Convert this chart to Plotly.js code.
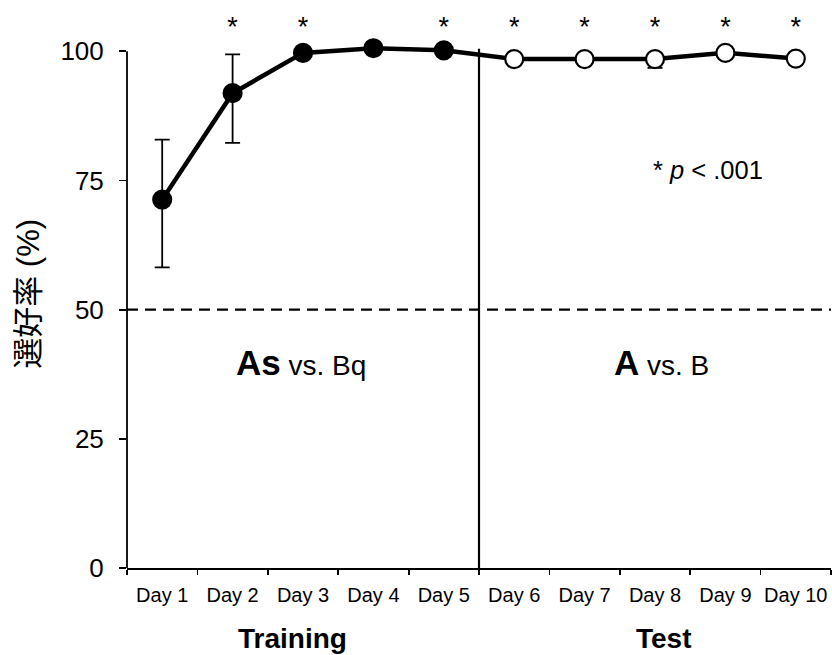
<!DOCTYPE html>
<html>
<head>
<meta charset="utf-8">
<script src="https://cdn.plot.ly/plotly-3.0.1.min.js"></script>
<style>
  html, body { margin: 0; padding: 0; background: #fff; }
  #chart { width: 832px; height: 655px; }
</style>
</head>
<body>
<div id="chart"></div>
<script>
// Preference rate per session (%), with error bars
const days = ['Day 1', 'Day 2', 'Day 3', 'Day 4', 'Day 5', 'Day 6', 'Day 7', 'Day 8', 'Day 9', 'Day 10'];
const preference = [71.3, 91.9, 99.7, 100.6, 100.2, 98.5, 98.5, 98.5, 99.7, 98.6];
const errPlus = [11.6, 7.5, 0.4, 0.3, 0.4, 0.5, 0.5, 0.5, 0.3, 0.6];
const errMinus = [13.1, 9.6, 0.4, 0.3, 0.4, 0.5, 0.5, 1.7, 0.3, 0.6];
const phase = ['training', 'training', 'training', 'training', 'training', 'test', 'test', 'test', 'test', 'test'];
const starDays = ['Day 2', 'Day 3', 'Day 5', 'Day 6', 'Day 7', 'Day 8', 'Day 9', 'Day 10'];
const chance = 50;
const yTicks = [0, 25, 50, 75, 100];
const yMax = 100;

const FONT = 'Liberation Sans, Arial, Noto Sans CJK JP, sans-serif';

const mainTrace = {
  x: days,
  y: preference,
  type: 'scatter',
  mode: 'lines+markers',
  cliponaxis: false,
  line: { color: '#000', width: 4.5 },
  marker: {
    size: 18,
    color: phase.map(p => p === 'training' ? '#000' : '#fff'),
    line: { color: '#000', width: 2.2 }
  },
  error_y: {
    type: 'data',
    symmetric: false,
    array: errPlus,
    arrayminus: errMinus,
    color: '#000',
    thickness: 1.8,
    width: 7.5
  },
  hoverinfo: 'x+y'
};

// significance markers above the sessions
const starTrace = {
  x: starDays,
  y: starDays.map(() => 104.3),
  type: 'scatter',
  mode: 'text',
  text: starDays.map(() => '*'),
  textfont: { family: FONT, size: 27, color: '#000' },
  cliponaxis: false,
  hoverinfo: 'skip'
};

const layout = {
  width: 832,
  height: 655,
  margin: { l: 127, r: 1, t: 10, b: 87 },
  paper_bgcolor: '#fff',
  plot_bgcolor: '#fff',
  showlegend: false,
  font: { family: FONT, color: '#000' },
  xaxis: {
    type: 'category',
    categoryorder: 'array',
    categoryarray: days,
    range: [-0.5, 9.5],
    tickson: 'boundaries',
    tickangle: 0,
    ticks: 'outside',
    ticklen: 5,
    tickwidth: 1.8,
    tickcolor: '#000',
    ticklabelstandoff: 8,
    showline: true,
    linecolor: '#000',
    linewidth: 1.8,
    showgrid: false,
    zeroline: false,
    tickfont: { family: FONT, size: 20, color: '#000' }
  },
  yaxis: {
    range: [0, 108],
    tickvals: yTicks,
    ticks: 'outside',
    ticklen: 7,
    tickwidth: 1.8,
    tickcolor: '#000',
    ticklabelstandoff: 10,
    showline: false,
    showgrid: false,
    zeroline: false,
    tickfont: { family: FONT, size: 26, color: '#000' }
  },
  shapes: [
    // vertical axis line, only up to 100 %
    { type: 'line', xref: 'paper', yref: 'y', x0: 0, x1: 0, y0: 0, y1: yMax,
      line: { color: '#000', width: 1.8 } },
    // chance level
    { type: 'line', xref: 'x', yref: 'y', x0: -0.5, x1: 9.5, y0: chance, y1: chance,
      line: { color: '#000', width: 2.2, dash: '11px,7px' } },
    // training / test boundary
    { type: 'line', xref: 'x', yref: 'y', x0: 4.5, x1: 4.5, y0: 0, y1: 100.5,
      line: { color: '#000', width: 2.2 } }
  ],
  annotations: [
    { xref: 'paper', yref: 'paper', x: -0.141, y: 0.491, text: '選好率 (%)', textangle: -90,
      showarrow: false, font: { family: FONT, size: 31, color: '#000' },
      xanchor: 'center', yanchor: 'middle' },
    { xref: 'x', yref: 'paper', x: 1.85, y: -0.126, text: '<b>Training</b>', showarrow: false,
      font: { family: FONT, size: 28, color: '#000' }, yanchor: 'middle' },
    { xref: 'x', yref: 'paper', x: 7.13, y: -0.126, text: '<b>Test</b>', showarrow: false,
      font: { family: FONT, size: 28, color: '#000' }, yanchor: 'middle' },
    { xref: 'x', yref: 'y', x: 1.97, y: 39.7,
      text: '<b><span style="font-size:35px">As</span></b> vs. Bq', showarrow: false,
      font: { family: FONT, size: 28, color: '#000' } },
    { xref: 'x', yref: 'y', x: 7.09, y: 39.7,
      text: '<b><span style="font-size:35px">A</span></b> vs. B', showarrow: false,
      font: { family: FONT, size: 28, color: '#000' } },
    { xref: 'x', yref: 'y', x: 7.75, y: 77, text: '* <i>p</i> < .001', showarrow: false,
      font: { family: FONT, size: 25.5, color: '#000' } }
  ]
};

Plotly.newPlot('chart', [mainTrace, starTrace], layout, { displayModeBar: false, staticPlot: true });
</script>
</body>
</html>
